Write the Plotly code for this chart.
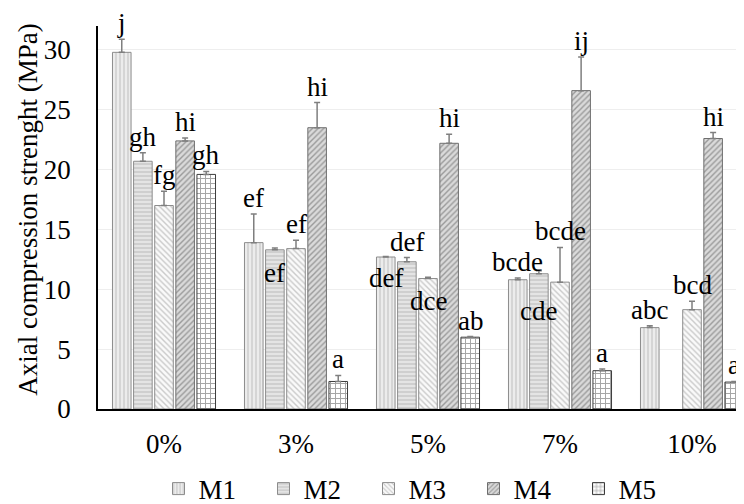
import plotly.graph_objects as go

categories = ["0%", "3%", "5%", "7%", "10%"]
series_names = ["M1", "M2", "M3", "M4", "M5"]

m1_values = [29.8, 13.9, 12.7, 10.8, 6.8]
m2_values = [20.7, 13.3, 12.3, 11.3, None]
m3_values = [17.0, 13.4, 10.9, 10.6, 8.3]
m4_values = [22.4, 23.5, 22.2, 26.6, 22.6]
m5_values = [19.6, 2.3, 6.0, 3.2, 2.25]

m1_errors = [1.1, 2.4, 0.05, 0.15, 0.15]
m2_errors = [0.7, 0.15, 0.35, 0.25, None]
m3_errors = [1.2, 0.7, 0.1, 2.9, 0.7]
m4_errors = [0.25, 2.1, 0.75, 2.8, 0.5]
m5_errors = [0.25, 0.5, 0.05, 0.15, 0.05]

m1_letters = ["j", "ef", "def", "bcde", "abc"]
m2_letters = ["gh", "ef", "def", "cde", ""]
m3_letters = ["fg", "ef", "dce", "bcde", "bcd"]
m4_letters = ["hi", "hi", "hi", "ij", "hi"]
m5_letters = ["gh", "a", "ab", "a", "a"]

y_title = "Axial compression strenght (MPa)"

values = [m1_values, m2_values, m3_values, m4_values, m5_values]
errors = [m1_errors, m2_errors, m3_errors, m4_errors, m5_errors]
letters = [m1_letters, m2_letters, m3_letters, m4_letters, m5_letters]

# style per series: (pattern shape, fg, bg, size, outline)
styles = [
    ("|", "#a9a9a9", "#ececec", 4, "#8c8c8c"),
    ("-", "#a9a9a9", "#e4e4e4", 4, "#8c8c8c"),
    ("\\", "#9a9a9a", "#fafafa", 4, "#8c8c8c"),
    ("/", "#5a5a5a", "#dadada", 4, "#6e6e6e"),
    ("+", "#4a4a4a", "#ffffff", 5, "#3c3c3c"),
]

# labels drawn inside/below the bar top: (series index, category index) -> pixel shift of label centre below bar top
below_labels = {(1, 1): 23, (0, 2): 21, (2, 2): 22, (1, 3): 37}

FONT = "Liberation Serif"
FS = 27

fig = go.Figure()
for i, name in enumerate(series_names):
    shape, fg, bg, size, outline = styles[i]
    fig.add_trace(go.Bar(
        name=name,
        x=categories,
        y=values[i],
        marker=dict(
            color=bg,
            line=dict(color=outline, width=1),
            pattern=dict(shape=shape, fgcolor=fg, bgcolor=bg, size=size, solidity=0.35),
        ),
        error_y=dict(type="data", symmetric=False, array=errors[i],
                     arrayminus=[0] * len(categories),
                     color="#7f7f7f", thickness=1.5, width=3),
    ))

bargap = 0.2
slot = (1 - bargap) / len(series_names)
cat_px = 132.0
for i in range(len(series_names)):
    xshift = (i - (len(series_names) - 1) / 2) * slot * cat_px
    for j, cat in enumerate(categories):
        lab = letters[i][j]
        v = values[i][j]
        if not lab or v is None:
            continue
        if (i, j) in below_labels:
            y = v
            ys = -below_labels[(i, j)]
        else:
            y = v + (errors[i][j] or 0)
            ys = 16
        fig.add_annotation(x=cat, y=y, text=lab, showarrow=False, xshift=xshift,
                           yshift=ys, yanchor="middle", borderpad=0,
                           font=dict(family=FONT, size=FS, color="#000000"))

fig.add_annotation(xref="paper", yref="paper", x=0, y=0.52, xshift=-70,
                   text=y_title, textangle=-90, showarrow=False,
                   xanchor="center", yanchor="middle",
                   font=dict(family=FONT, size=FS, color="#000000"))

fig.update_layout(
    width=736, height=496,
    barmode="group", bargap=bargap, bargroupgap=0.12,
    plot_bgcolor="white", paper_bgcolor="white",
    margin=dict(l=90, r=0, t=18, b=95, autoexpand=False),
    font=dict(family=FONT, size=FS, color="#000000"),
    showlegend=True,
    legend=dict(orientation="h", x=0.5, xanchor="center", y=-0.209, yanchor="middle",
                font=dict(family=FONT, size=FS), entrywidth=60, entrywidthmode="pixels",
                itemwidth=30, traceorder="normal", tracegroupgap=0),
    xaxis=dict(range=[-0.5, -0.5 + 646 / cat_px], showline=True, linecolor="#000000",
               linewidth=1.5, ticks="", showgrid=False, ticklabelstandoff=10,
               automargin=False, tickfont=dict(family=FONT, size=FS)),
    yaxis=dict(range=[0, 32], dtick=5, tick0=0, showline=True, linecolor="#000000",
               linewidth=1.5, ticks="", showgrid=True, gridcolor="#eeeeee", gridwidth=1,
               zeroline=False, ticklabelstandoff=20, automargin=False,
               tickfont=dict(family=FONT, size=FS)),
)

fig.write_html("out.html")
